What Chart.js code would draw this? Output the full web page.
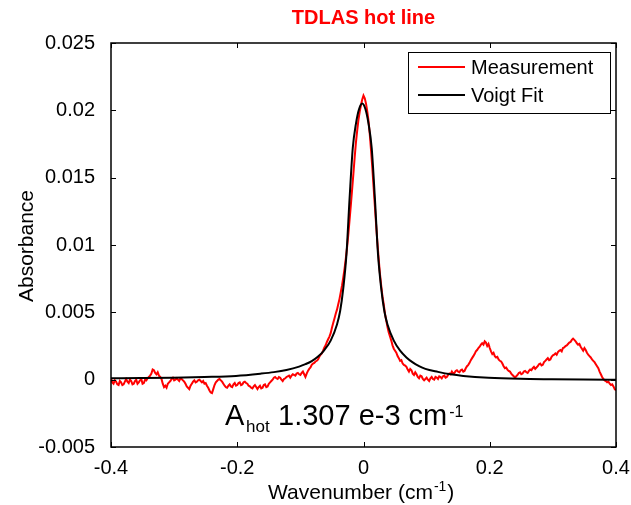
<!DOCTYPE html>
<html>
<head>
<meta charset="utf-8">
<script src="https://cdn.jsdelivr.net/npm/chart.js@4.4.1/dist/chart.umd.min.js"></script>
<style>
  html, body { margin: 0; padding: 0; background: #fff; }
</style>
</head>
<body>
<canvas id="chart" width="631" height="505"></canvas>
<script>
const chartTitle = 'TDLAS hot line';
const yAxisTitle = 'Absorbance';
const seriesNames = ['Measurement', 'Voigt Fit'];
const seriesColors = ['#ff0000', '#000000'];

const xTicks = [-0.4, -0.2, 0, 0.2, 0.4];
const yTicks = [-0.005, 0, 0.005, 0.01, 0.015, 0.02, 0.025];

// measurement sampled every 0.002 cm-1 from -0.4
const measStart = -0.4;
const measStep = 0.002;
const measValues = [
  0.00010, -0.00020, -0.00030, -0.00005, -0.00015, -0.00035, -0.00040, -0.00010, -0.00020, -0.00040,
  -0.00035, -0.00015, 0.00005, -0.00015, -0.00025, 0.00000, -0.00010, -0.00035, -0.00030, -0.00010,
  0.00000, -0.00030, -0.00020, -0.00005, 0.00005, -0.00030, -0.00025, 0.00000, -0.00005, 0.00010,
  0.00020, 0.00030, 0.00045, 0.00075, 0.00070, 0.00050, 0.00040, 0.00055, 0.00030, 0.00020,
  0.00005, -0.00030, -0.00055, -0.00045, -0.00060, -0.00030, -0.00020, -0.00010, 0.00005, 0.00015,
  -0.00005, 0.00000, 0.00010, 0.00000, -0.00010, 0.00010, 0.00005, -0.00005, -0.00015, -0.00030,
  -0.00050, -0.00060, -0.00070, -0.00045, -0.00030, -0.00015, -0.00005, -0.00020, -0.00015, -0.00005,
  0.00000, -0.00010, -0.00020, -0.00010, -0.00030, -0.00025, -0.00045, -0.00060, -0.00080, -0.00095,
  -0.00100, -0.00070, -0.00040, -0.00020, -0.00010, 0.00000, 0.00005, -0.00005, -0.00015, -0.00030,
  -0.00045, -0.00055, -0.00060, -0.00045, -0.00035, -0.00050, -0.00055, -0.00035, -0.00025, -0.00045,
  -0.00040, -0.00025, -0.00020, -0.00040, -0.00035, -0.00020, -0.00015, -0.00025, -0.00030, -0.00045,
  -0.00050, -0.00060, -0.00065, -0.00050, -0.00040, -0.00055, -0.00070, -0.00055, -0.00045, -0.00065,
  -0.00060, -0.00040, -0.00035, -0.00055, -0.00050, -0.00030, -0.00020, -0.00010, 0.00000, 0.00015,
  0.00020, 0.00010, 0.00005, 0.00020, 0.00015, 0.00000, -0.00010, 0.00005, 0.00010, 0.00020,
  0.00025, 0.00030, 0.00015, 0.00030, 0.00040, 0.00035, 0.00030, 0.00045, 0.00050, 0.00040,
  0.00035, 0.00050, 0.00060, 0.00040, 0.00020, 0.00045, 0.00065, 0.00080, 0.00090, 0.00110,
  0.00120, 0.00125, 0.00135, 0.00140, 0.00150, 0.00170, 0.00185, 0.00195, 0.00215, 0.00240,
  0.00255, 0.00280, 0.00300, 0.00320, 0.00345, 0.00385, 0.00420, 0.00455, 0.00490, 0.00520,
  0.00560, 0.00600, 0.00650, 0.00700, 0.00760, 0.00825, 0.00900, 0.00985, 0.01080, 0.01190,
  0.01300, 0.01415, 0.01530, 0.01650, 0.01760, 0.01850, 0.01930, 0.01990, 0.02040, 0.02080,
  0.02110, 0.02090, 0.02050, 0.01990, 0.01920, 0.01820, 0.01700, 0.01570, 0.01430, 0.01290,
  0.01150, 0.01020, 0.00900, 0.00790, 0.00700, 0.00620, 0.00560, 0.00490, 0.00440, 0.00390,
  0.00350, 0.00320, 0.00290, 0.00255, 0.00230, 0.00215, 0.00200, 0.00175, 0.00160, 0.00140,
  0.00145, 0.00120, 0.00110, 0.00105, 0.00095, 0.00075, 0.00060, 0.00080, 0.00070, 0.00045,
  0.00035, 0.00055, 0.00040, 0.00020, 0.00010, 0.00030, 0.00025, 0.00005, -0.00005, 0.00005,
  0.00015, 0.00000, -0.00010, 0.00010, 0.00020, 0.00005, 0.00000, 0.00020, 0.00015, 0.00005,
  0.00025, 0.00020, 0.00010, 0.00025, 0.00030, 0.00015, 0.00020, 0.00035, 0.00045, 0.00040,
  0.00060, 0.00045, 0.00050, 0.00065, 0.00070, 0.00060, 0.00055, 0.00070, 0.00075, 0.00060,
  0.00065, 0.00085, 0.00100, 0.00110, 0.00125, 0.00145, 0.00160, 0.00175, 0.00190, 0.00210,
  0.00220, 0.00235, 0.00245, 0.00260, 0.00270, 0.00260, 0.00285, 0.00275, 0.00250, 0.00265,
  0.00235, 0.00210, 0.00190, 0.00200, 0.00175, 0.00165, 0.00170, 0.00150, 0.00140, 0.00135,
  0.00120, 0.00100, 0.00085, 0.00090, 0.00075, 0.00065, 0.00060, 0.00045, 0.00035, 0.00025,
  0.00015, 0.00025, 0.00035, 0.00050, 0.00055, 0.00040, 0.00045, 0.00060, 0.00065, 0.00055,
  0.00050, 0.00065, 0.00075, 0.00070, 0.00085, 0.00095, 0.00080, 0.00090, 0.00100, 0.00115,
  0.00120, 0.00105, 0.00110, 0.00130, 0.00140, 0.00150, 0.00160, 0.00145, 0.00150, 0.00170,
  0.00180, 0.00185, 0.00195, 0.00185, 0.00205, 0.00215, 0.00220, 0.00210, 0.00235, 0.00240,
  0.00250, 0.00255, 0.00265, 0.00275, 0.00280, 0.00295, 0.00305, 0.00295, 0.00285, 0.00270,
  0.00260, 0.00265, 0.00245, 0.00230, 0.00215, 0.00235, 0.00220, 0.00200, 0.00185, 0.00175,
  0.00165, 0.00150, 0.00140, 0.00130, 0.00115, 0.00100, 0.00085, 0.00060, 0.00040, 0.00020,
  0.00005, -0.00005, -0.00010, -0.00020, -0.00015, -0.00030, -0.00040, -0.00035, -0.00050, -0.00070,
  -0.00080
];

// voigt fit read at irregular points
const fitX = [
  -0.4, -0.352, -0.302, -0.252, -0.202, -0.162, -0.142, -0.122, -0.102, -0.092,
  -0.082, -0.072, -0.062, -0.052, -0.042, -0.037, -0.032, -0.027, -0.022, -0.017,
  -0.012, -0.007, -0.002, 0.003, 0.008, 0.013, 0.018, 0.023, 0.028, 0.033,
  0.038, 0.048, 0.058, 0.068, 0.078, 0.088, 0.098, 0.118, 0.138, 0.158,
  0.198, 0.248, 0.298, 0.348, 0.4
];
const fitY = [
  0.00010, 0.00012, 0.00015, 0.00020, 0.00028, 0.00045, 0.00056, 0.00072, 0.00097, 0.00115,
  0.00138, 0.00172, 0.00220, 0.00290, 0.00410, 0.00510, 0.00680, 0.00930, 0.01350, 0.01720,
  0.01900, 0.02010, 0.02050, 0.02010, 0.01900, 0.01720, 0.01350, 0.00930, 0.00680, 0.00510,
  0.00410, 0.00290, 0.00215, 0.00165, 0.00128, 0.00100, 0.00080, 0.00058, 0.00040, 0.00028,
  0.00014, 0.00006, 0.00003, 0.00001, 0.00000
];

const FONT = '"Liberation Sans", Arial, sans-serif';

const measPoints = measValues.map((v, i) => ({ x: measStart + i * measStep, y: v }));
const fitPoints = fitX.map((x, i) => ({ x: x, y: fitY[i] }));

function fmt(v) {
  return String(parseFloat(v.toFixed(4)));
}

const framePlugin = {
  id: 'frame',
  afterDatasetsDraw(chart) {
    const { ctx, chartArea: a, scales: { x, y } } = chart;
    ctx.save();
    ctx.strokeStyle = '#000';
    ctx.lineWidth = 1.5;
    ctx.strokeRect(a.left, a.top, a.right - a.left, a.bottom - a.top);

    ctx.lineWidth = 1;
    ctx.beginPath();
    xTicks.forEach(v => {
      const px = Math.round(x.getPixelForValue(v)) + 0.5;
      ctx.moveTo(px, a.bottom); ctx.lineTo(px, a.bottom - 5);
      ctx.moveTo(px, a.top); ctx.lineTo(px, a.top + 5);
    });
    yTicks.forEach(v => {
      const py = Math.round(y.getPixelForValue(v)) + 0.5;
      ctx.moveTo(a.left, py); ctx.lineTo(a.left + 5, py);
      ctx.moveTo(a.right, py); ctx.lineTo(a.right - 5, py);
    });
    ctx.stroke();

    // legend box, top right inside the axes
    const lx = 408, ly = 52, lw = 202, lh = 61;
    ctx.fillStyle = '#fff';
    ctx.fillRect(lx, ly, lw, lh);
    ctx.lineWidth = 1;
    ctx.strokeRect(lx + 0.5, ly + 0.5, lw, lh);
    ctx.font = '20px ' + FONT;
    ctx.textBaseline = 'middle';
    ctx.textAlign = 'left';
    seriesNames.forEach((name, i) => {
      const yy = 67 + i * 28;
      ctx.strokeStyle = seriesColors[i];
      ctx.lineWidth = 2;
      ctx.beginPath();
      ctx.moveTo(418, yy); ctx.lineTo(465, yy);
      ctx.stroke();
      ctx.fillStyle = '#000';
      ctx.fillText(name, 471, yy + 1);
    });
    ctx.restore();
  },
  afterDraw(chart) {
    const { ctx, chartArea: a } = chart;
    ctx.save();
    ctx.textBaseline = 'alphabetic';

    // title
    ctx.fillStyle = '#ff0000';
    ctx.font = 'bold 20px ' + FONT;
    ctx.textAlign = 'center';
    ctx.fillText(chartTitle, (a.left + a.right) / 2, 24);

    // x axis title with superscript
    ctx.fillStyle = '#000';
    ctx.textAlign = 'left';
    ctx.font = '21px ' + FONT;
    let tx = 268;
    const xBase = 499;
    ctx.fillText('Wavenumber (cm', tx, xBase);
    tx += ctx.measureText('Wavenumber (cm').width;
    ctx.font = '14px ' + FONT;
    ctx.fillText('-1', tx + 1, xBase - 8);
    tx += ctx.measureText('-1').width + 2;
    ctx.font = '21px ' + FONT;
    ctx.fillText(')', tx, xBase);

    // y axis title
    ctx.save();
    ctx.translate(33, 246);
    ctx.rotate(-Math.PI / 2);
    ctx.textAlign = 'center';
    ctx.font = '21px ' + FONT;
    ctx.fillText(yAxisTitle, 0, 0);
    ctx.restore();

    // area annotation
    ctx.textAlign = 'left';
    ctx.font = '29px ' + FONT;
    ctx.fillText('A', 225, 425);
    ctx.font = '17px ' + FONT;
    ctx.fillText('hot', 246, 432);
    ctx.font = '29px ' + FONT;
    ctx.fillText('1.307 e-3 cm', 278, 425);
    const aw = ctx.measureText('1.307 e-3 cm').width;
    ctx.font = '16px ' + FONT;
    ctx.fillText('-1', 278 + aw + 2, 417);
    ctx.restore();
  }
};

const ctx = document.getElementById('chart');
new Chart(ctx, {
  type: 'line',
  data: {
    datasets: [
      {
        label: seriesNames[0],
        data: measPoints,
        borderColor: seriesColors[0],
        borderWidth: 2,
        pointRadius: 0,
        tension: 0,
        order: 1
      },
      {
        label: seriesNames[1],
        data: fitPoints,
        borderColor: seriesColors[1],
        borderWidth: 2,
        pointRadius: 0,
        cubicInterpolationMode: 'monotone',
        order: 0
      }
    ]
  },
  options: {
    responsive: false,
    animation: false,
    layout: { padding: { left: 0, top: 43, right: 15, bottom: 0 } },
    plugins: {
      legend: { display: false },
      tooltip: { enabled: false }
    },
    scales: {
      x: {
        type: 'linear',
        min: -0.4,
        max: 0.4,
        grid: { display: false },
        border: { display: false },
        afterBuildTicks: s => { s.ticks = xTicks.map(v => ({ value: v })); },
        afterFit: s => { s.height = 58; s.paddingLeft = 0; s.paddingRight = 0; },
        ticks: {
          color: '#000',
          font: { family: FONT, size: 20 },
          padding: 1,
          maxRotation: 0,
          callback: v => fmt(v)
        }
      },
      y: {
        type: 'linear',
        min: -0.005,
        max: 0.025,
        grid: { display: false },
        border: { display: false },
        afterBuildTicks: s => { s.ticks = yTicks.map(v => ({ value: v })); },
        afterFit: s => { s.width = 111; s.paddingTop = 0; s.paddingBottom = 0; },
        ticks: {
          color: '#000',
          font: { family: FONT, size: 20 },
          padding: 8,
          callback: v => fmt(v)
        }
      }
    }
  },
  plugins: [framePlugin]
});
</script>
</body>
</html>
